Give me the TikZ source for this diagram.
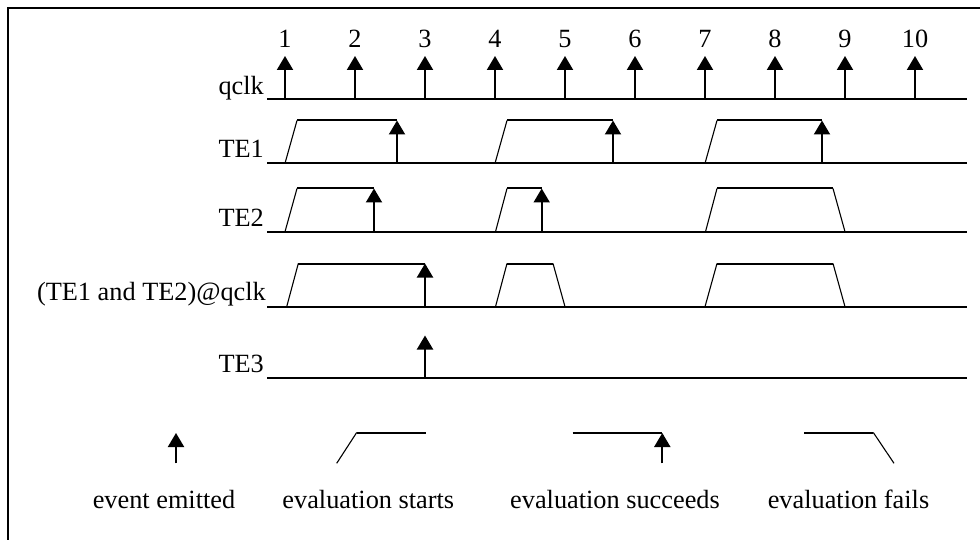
\documentclass[tikz,border=0pt]{standalone}
\usepackage{fontspec}
\setmainfont{Liberation Serif}
\usetikzlibrary{arrows.meta}
\begin{document}
\begin{tikzpicture}[x=1pt,y=-1pt,
  sig/.style={line width=2pt},
  slope/.style={line width=1.1pt},
  evt/.style={line width=2pt,-{Triangle[width=16pt,length=14pt]}},
  lbl/.style={font=\fontsize{26.3}{30}\selectfont, inner sep=0pt},
]
\useasboundingbox (0,0) rectangle (980,540);
% frame (open to the right and bottom)
\draw[line width=2pt] (8,540) -- (8,8) -- (980,8);

% signal names
\node[lbl, anchor=base east] (lqclk) at (264,94.5) {qclk};
\node[lbl, anchor=base east] (lte1) at (264,157.5) {TE1};
\node[lbl, anchor=base east] (lte2) at (264,226.5) {TE2};
\node[lbl, anchor=base east] (land) at (266,300.5) {(TE1 and TE2)@qclk};
\node[lbl, anchor=base east] (lte3) at (264,372) {TE3};

% time axes
\foreach \y in {98.7,163.3,231.7,306.7,377.7}
  \draw[sig] (267,\y) -- (967,\y);

% clock ticks
\foreach \i in {1,...,10}{
  \node[lbl, anchor=base] (n\i) at ({215+70*\i},48) {\i};
  \coordinate (t\i) at ({215+70*\i},98.7);
  \draw[evt] (t\i) -- ++(0,-42.7);
}

% TE1
\draw[slope] (285,163.3) -- (297,120.5);
\draw[sig] (297,120.5) -- (397,120.5);
\draw[evt] (397,163.3) -- (397,120.5);
\draw[slope] (495,163.3) -- (507,120.5);
\draw[sig] (507,120.5) -- (613,120.5);
\draw[evt] (613,163.3) -- (613,120.5);
\draw[slope] (705,163.3) -- (717,120.5);
\draw[sig] (717,120.5) -- (822,120.5);
\draw[evt] (822,163.3) -- (822,120.5);

% TE2
\draw[slope] (285,231.7) -- (297,188.5);
\draw[sig] (297,188.5) -- (374,188.5);
\draw[evt] (374,231.7) -- (374,188.5);
\draw[slope] (495.5,231.7) -- (507,188.5);
\draw[sig] (507,188.5) -- (541.7,188.5);
\draw[evt] (541.7,231.7) -- (541.7,188.5);
\draw[slope] (705.5,231.7) -- (717,188.5);
\draw[sig] (717,188.5) -- (833,188.5);
\draw[slope] (833,188.5) -- (845,231.7);

% (TE1 and TE2)@qclk
\draw[slope] (286.7,306.7) -- (298.3,263.5);
\draw[sig] (298.3,263.5) -- (425,263.5);
\draw[evt] (425,306.7) -- (425,263.5);
\draw[slope] (495.5,306.7) -- (507,263.5);
\draw[sig] (507,263.5) -- (553,263.5);
\draw[slope] (553,263.5) -- (565,306.7);
\draw[slope] (705,306.7) -- (717,263.5);
\draw[sig] (717,263.5) -- (833,263.5);
\draw[slope] (833,263.5) -- (845,306.7);

% TE3
\draw[evt] (425,377.7) -- (425,335.5);

% legend
\draw[evt] (176,463.3) -- (176,433);
\draw[slope] (336.7,463.3) -- (356.7,432.5);
\draw[sig] (356.7,432.5) -- (425.7,432.5);
\draw[sig] (572.7,432.5) -- (662.3,432.5);
\draw[evt] (662.3,463.3) -- (662.3,433);
\draw[sig] (804.3,432.5) -- (873.3,432.5);
\draw[slope] (873.3,432.5) -- (894,463.3);

\node[lbl, anchor=base] (k1) at (164,508.3) {event emitted};
\node[lbl, anchor=base] (k2) at (368.3,508.3) {evaluation starts};
\node[lbl, anchor=base] (k3) at (615,508.3) {evaluation succeeds};
\node[lbl, anchor=base] (k4) at (848.5,508.3) {evaluation fails};
\end{tikzpicture}
\end{document}
